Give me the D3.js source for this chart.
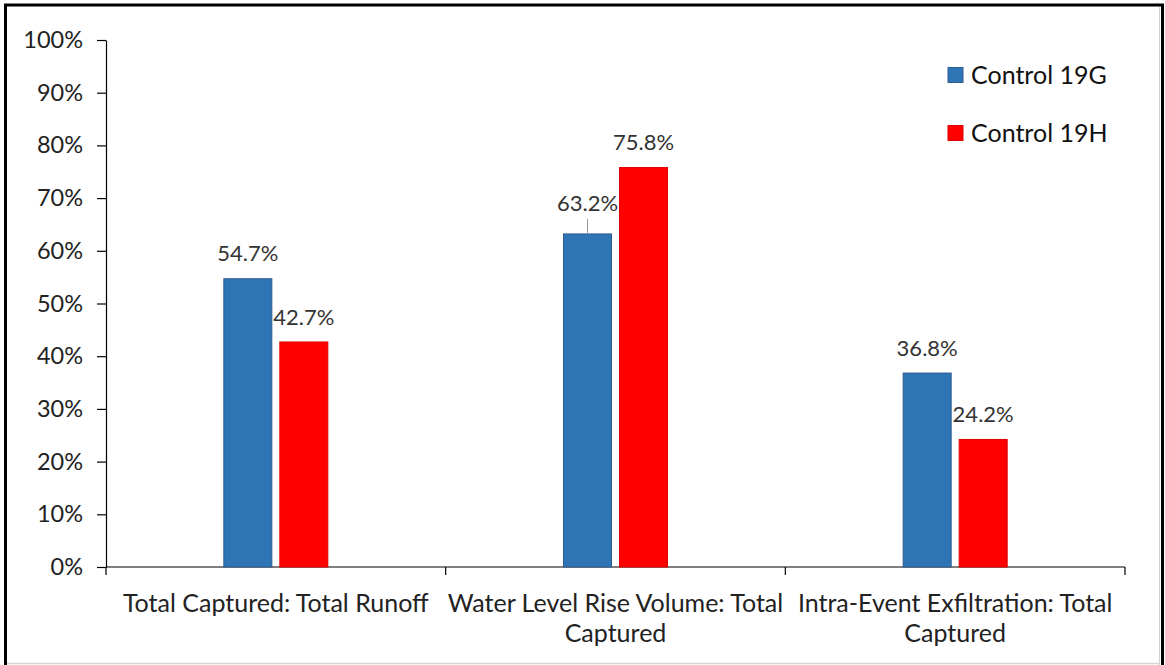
<!DOCTYPE html>
<html>
<head>
<meta charset="utf-8">
<script src="https://cdn.jsdelivr.net/npm/d3@7"></script>
<style>
  html, body { margin: 0; padding: 0; background: #fff; }
  svg { display: block; }
  text { font-family: Lato, "Open Sans", sans-serif; }
</style>
</head>
<body>
<svg id="chart" width="1165" height="665"></svg>
<script>
// Chart data
const categories = [
  ["Total Captured: Total Runoff"],
  ["Water Level Rise Volume: Total", "Captured"],
  ["Intra-Event Exfiltration: Total", "Captured"]
];
const seriesNames = ["Control 19G", "Control 19H"];
const control19G = [54.7, 63.2, 36.8];
const control19H = [42.7, 75.8, 24.2];
const yTicks = [0, 10, 20, 30, 40, 50, 60, 70, 80, 90, 100];
const seriesColors = ["#2E75B6", "#FF0000"];
const seriesStroke = ["#2F5B8F", "#E00000"];

const svg = d3.select("#chart");
const W = 1165, H = 665;
const margin = { left: 106, right: 40, top: 40, bottom: 98 };
const plotW = 1125 - margin.left;
const plotH = 567 - margin.top;

// Outer frame
svg.append("rect").attr("x", 0).attr("y", 0).attr("width", W).attr("height", H).attr("fill", "#fff");
svg.append("line").attr("x1", 5.5).attr("x2", 5.5).attr("y1", 4).attr("y2", 665).attr("stroke", "#000").attr("stroke-width", 3);
svg.append("line").attr("x1", 4).attr("x2", 1164).attr("y1", 5).attr("y2", 5).attr("stroke", "#000").attr("stroke-width", 3);
svg.append("line").attr("x1", 1162.5).attr("x2", 1162.5).attr("y1", 4).attr("y2", 665).attr("stroke", "#000").attr("stroke-width", 3);
svg.append("line").attr("x1", 1159.5).attr("x2", 1159.5).attr("y1", 7).attr("y2", 665).attr("stroke", "#d0d0d0").attr("stroke-width", 1);
svg.append("line").attr("x1", 7).attr("x2", 1160).attr("y1", 663.5).attr("y2", 663.5).attr("stroke", "#d6d6d6").attr("stroke-width", 1.5);

const g = svg.append("g").attr("transform", `translate(${margin.left},${margin.top})`);

const x0 = d3.scaleBand().domain(d3.range(categories.length)).range([0, plotW]).paddingInner(0).paddingOuter(0);
const y = d3.scaleLinear().domain([0, 100]).range([plotH, 0]);

const barW = 48, barGap = 8;
const groupW = barW * 2 + barGap;

// Y axis
const yAxis = d3.axisLeft(y).tickValues(yTicks).tickFormat(d => d + "%").tickSize(9).tickSizeOuter(0).tickPadding(14);
const ya = g.append("g").call(yAxis);
ya.select(".domain").attr("stroke", "#000").attr("stroke-width", 1.2);
ya.selectAll(".tick line").attr("stroke", "#000").attr("stroke-width", 1.2);
ya.selectAll(".tick text").attr("font-size", 23.5).attr("fill", "#222").attr("font-family", "Lato, sans-serif");

// X axis line with category boundary ticks
g.append("line").attr("x1", 0).attr("x2", plotW).attr("y1", plotH).attr("y2", plotH).attr("stroke", "#000").attr("stroke-width", 1.2);
const bounds = d3.range(categories.length + 1).map(i => i === categories.length ? plotW : x0(i));
g.selectAll(".xtick").data(bounds).join("line")
  .attr("x1", d => d).attr("x2", d => d)
  .attr("y1", plotH).attr("y2", plotH + 8)
  .attr("stroke", "#000").attr("stroke-width", 1.2);

// Category labels
const catG = g.selectAll(".cat").data(categories).join("text")
  .attr("text-anchor", "middle")
  .attr("font-size", 25)
  .attr("fill", "#222")
  .attr("transform", (d, i) => `translate(${x0(i) + x0.bandwidth() / 2},${plotH + 45})`);
catG.selectAll("tspan").data(d => d).join("tspan")
  .attr("x", 0).attr("dy", (d, i) => i === 0 ? 0 : 30).text(d => d);

// Bars
const series = [control19G, control19H];
series.forEach((vals, s) => {
  const xPos = i => x0(i) + x0.bandwidth() / 2 - groupW / 2 + s * (barW + barGap);
  g.selectAll(".bar" + s).data(vals).join("rect")
    .attr("x", (d, i) => xPos(i))
    .attr("y", d => y(d))
    .attr("width", barW)
    .attr("height", d => plotH - y(d))
    .attr("fill", seriesColors[s])
    .attr("stroke", seriesStroke[s])
    .attr("stroke-width", 1);

  // Value labels; the 63.2% label is lifted with a leader line
  vals.forEach((d, i) => {
    const cx = xPos(i) + barW / 2;
    const lifted = (s === 0 && i === 1);
    const cy = y(d) - (lifted ? 31 : 25);
    if (lifted) {
      g.append("line").attr("x1", cx).attr("x2", cx).attr("y1", cy + 16).attr("y2", y(d))
        .attr("stroke", "#999").attr("stroke-width", 1);
    }
    g.append("text").attr("x", cx).attr("y", cy).attr("dy", "0.35em")
      .attr("text-anchor", "middle").attr("font-size", 22).attr("fill", "#333")
      .text(d.toFixed(1) + "%");
  });
});

// Legend
const legend = svg.append("g");
seriesNames.forEach((name, s) => {
  const ly = 75 + s * 58;
  legend.append("rect").attr("x", 948).attr("y", ly - 7.5).attr("width", 15).attr("height", 15)
    .attr("fill", seriesColors[s]).attr("stroke", seriesStroke[s]).attr("stroke-width", 1);
  legend.append("text").attr("x", 971).attr("y", ly).attr("dy", "0.35em")
    .attr("font-size", 25).attr("fill", "#111").text(name);
});
</script>
</body>
</html>
